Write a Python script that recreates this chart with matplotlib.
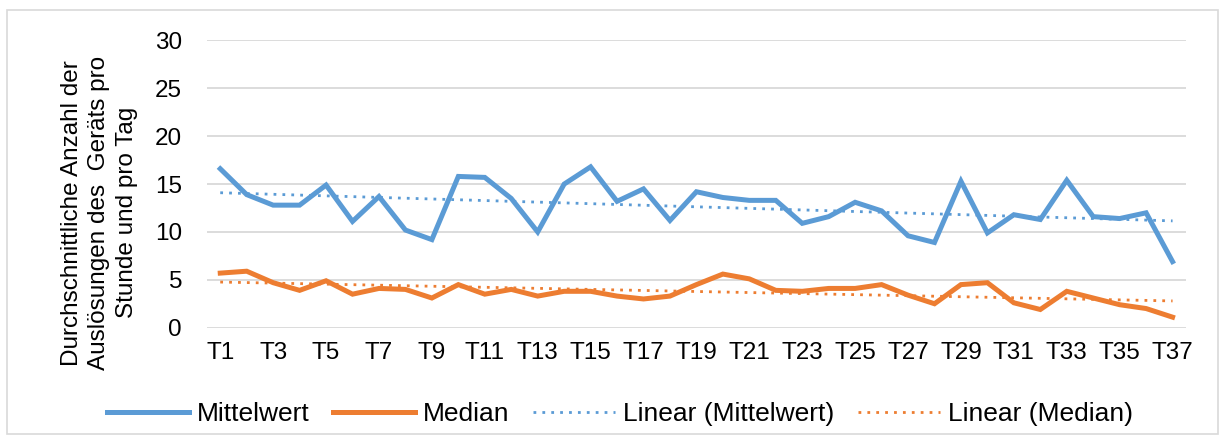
import numpy as np
import matplotlib.pyplot as plt
from matplotlib.patches import Rectangle

# Werte
kategorien = ["T%d" % i for i in range(1, 38)]
mittelwert = [16.6, 13.9, 12.8, 12.8, 14.9, 11.1, 13.7, 10.2, 9.2, 15.8,
              15.7, 13.5, 10.0, 15.0, 16.8, 13.2, 14.5, 11.2, 14.2, 13.6,
              13.3, 13.3, 10.9, 11.6, 13.1, 12.2, 9.6, 8.9, 15.3, 9.9,
              11.8, 11.3, 15.4, 11.6, 11.4, 12.0, 6.9]
median = [5.7, 5.9, 4.7, 3.9, 4.9, 3.5, 4.1, 4.0, 3.1, 4.5,
          3.5, 4.0, 3.3, 3.8, 3.8, 3.3, 3.0, 3.3, 4.5, 5.6,
          5.1, 3.9, 3.8, 4.1, 4.1, 4.5, 3.4, 2.5, 4.5, 4.7,
          2.6, 1.9, 3.8, 3.1, 2.4, 2.0, 1.1]
y_ticks = [0, 5, 10, 15, 20, 25, 30]

BLAU = "#5B9BD5"
ORANGE = "#ED7D31"

plt.rcParams["font.family"] = ["Liberation Sans", "DejaVu Sans"]

fig = plt.figure(figsize=(12.25, 4.43), dpi=100)
ax = fig.add_axes([0.169, 0.2603, 0.799, 0.6483])

x = np.arange(len(kategorien))
ax.plot(x, mittelwert, color=BLAU, lw=3.6, label="Mittelwert", solid_joinstyle="miter")
ax.plot(x, median, color=ORANGE, lw=3.6, label="Median", solid_joinstyle="miter")

# lineare Trendlinien
for werte, farbe, name in [(mittelwert, BLAU, "Linear (Mittelwert)"),
                           (median, ORANGE, "Linear (Median)")]:
    k, d = np.polyfit(x, werte, 1)
    ax.plot(x, k * x + d, color=farbe, lw=2.0, ls=(0, (1, 2.2)), label=name)

ax.set_xlim(-0.5, len(kategorien) - 0.5)
ax.set_ylim(0, 30)
ax.set_yticks(y_ticks)
ax.set_xticks(x[::2])
ax.set_xticklabels(kategorien[::2])
ax.tick_params(length=0, labelsize=17.5, colors="#000000")
ax.tick_params(axis="x", pad=10)
ax.tick_params(axis="y", pad=18)
ax.grid(axis="y", color="#D9D9D9", lw=1.3)
ax.set_axisbelow(True)
for s in ax.spines.values():
    s.set_visible(False)

ax.set_ylabel("Durchschnittliche Anzahl der\nAuslösungen des  Geräts pro\nStunde und pro Tag",
              fontsize=17.5, linespacing=1.3)
ax.yaxis.set_label_coords(-0.071, 0.40)

fig.legend(loc="center", bbox_to_anchor=(0.506, 0.066), ncol=4, frameon=False,
           fontsize=19, handlelength=3.1, columnspacing=0.9, handletextpad=0.3)

fig.patches.append(Rectangle((0.006, 0.02), 0.988, 0.958, transform=fig.transFigure,
                             fill=False, edgecolor="#D9D9D9", lw=1.2))

fig.savefig("out.png", dpi=100)
